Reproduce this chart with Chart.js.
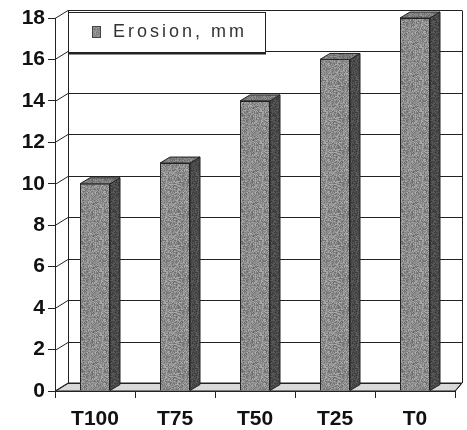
<!DOCTYPE html>
<html>
<head>
<meta charset="utf-8">
<script src="https://cdn.jsdelivr.net/npm/chart.js@4"></script>
<style>
  html, body { margin: 0; padding: 0; background: #fff; }
  #wrap { width: 467px; height: 430px; }
</style>
</head>
<body>
<div id="wrap"><canvas id="erosion-chart" width="467" height="430"></canvas></div>
<script>
// data
const categories = ['T100', 'T75', 'T50', 'T25', 'T0'];
const erosion = [10, 11, 14, 16, 18];
const seriesLabel = 'Erosion, mm';
const yMin = 0, yMax = 18, yStep = 2;

const wallX = 13, wallY = -8; // 3d offset of the back wall
const barX = 10, barY = -6;   // depth of the columns

// little speckled fill like the scanned bars
function speckle(base, spread) {
    const c = document.createElement('canvas');
    c.width = 32; c.height = 32;
    const g = c.getContext('2d');
    let s = 7;
    for (let y = 0; y < 32; y++) {
        for (let x = 0; x < 32; x++) {
            s = (s * 1103515245 + 12345) & 0x7fffffff;
            const v = base + ((s % 1000) / 1000 - 0.5) * spread;
            g.fillStyle = `rgb(${v},${v},${v})`;
            g.fillRect(x, y, 1, 1);
        }
    }
    return g.createPattern(c, 'repeat');
}

const wall3d = { // back wall, floor, left wall and the gridlines
    id: 'wall3d',
    beforeDatasetsDraw(chart) {
        const ctx = chart.ctx;
        const y = chart.scales.y, a = chart.chartArea;
        const left = a.left, right = a.right, bottom = a.bottom;
        const backRight = right + 7;
        ctx.save();
        ctx.strokeStyle = '#222';
        ctx.lineWidth = 1;
        // floor
        ctx.fillStyle = '#d8d8d8';
        ctx.beginPath();
        ctx.moveTo(left, bottom);
        ctx.lineTo(right, bottom);
        ctx.lineTo(backRight, bottom + wallY);
        ctx.lineTo(left + wallX, bottom + wallY);
        ctx.closePath();
        ctx.fill();
        ctx.stroke();
        // gridlines on the back wall + diagonals on the left wall
        for (let v = yMin; v <= yMax; v += yStep) {
            const py = Math.round(y.getPixelForValue(v)) + 0.5;
            ctx.beginPath();
            ctx.moveTo(left, py);
            ctx.lineTo(left + wallX, py + wallY);
            ctx.lineTo(backRight, py + wallY);
            ctx.stroke();
        }
        // vertical edges
        const top = Math.round(y.getPixelForValue(yMax)) + 0.5;
        ctx.beginPath();
        ctx.moveTo(left + wallX + 0.5, top + wallY);
        ctx.lineTo(left + wallX + 0.5, bottom + wallY);
        ctx.moveTo(backRight + 0.5, top + wallY);
        ctx.lineTo(backRight + 0.5, bottom + wallY);
        ctx.moveTo(right, bottom + 0.5);
        ctx.lineTo(backRight, bottom + wallY);
        ctx.stroke();
        ctx.restore();
    },
    afterDatasetsDraw(chart) { // side and top faces of each column
        const ctx = chart.ctx;
        const side = speckle(75, 40), topFace = speckle(125, 50);
        chart.getDatasetMeta(0).data.forEach(bar => {
            const l = bar.x - bar.width / 2, r = bar.x + bar.width / 2;
            const t = bar.y, b = bar.base;
            ctx.save();
            ctx.strokeStyle = '#222';
            ctx.lineWidth = 1;
            ctx.fillStyle = side;
            ctx.beginPath();
            ctx.moveTo(r, t);
            ctx.lineTo(r + barX, t + barY);
            ctx.lineTo(r + barX, b + barY);
            ctx.lineTo(r, b);
            ctx.closePath();
            ctx.fill();
            ctx.stroke();
            ctx.fillStyle = topFace;
            ctx.beginPath();
            ctx.moveTo(l, t);
            ctx.lineTo(l + barX, t + barY);
            ctx.lineTo(r + barX, t + barY);
            ctx.lineTo(r, t);
            ctx.closePath();
            ctx.fill();
            ctx.stroke();
            ctx.restore();
        });
    },
    afterDraw(chart) { // legend box inside the plot, top left
        const ctx = chart.ctx;
        const bx = 68, by = 12, bw = 197, bh = 40;
        ctx.save();
        ctx.fillStyle = '#fff';
        ctx.fillRect(bx, by, bw, bh);
        ctx.strokeStyle = '#222';
        ctx.lineWidth = 1;
        ctx.strokeRect(bx + 0.5, by + 0.5, bw, bh);
        ctx.lineWidth = 2;
        ctx.beginPath();
        ctx.moveTo(bx + 1, by + bh + 1.5);
        ctx.lineTo(bx + bw + 1, by + bh + 1.5);
        ctx.stroke();
        ctx.fillStyle = speckle(140, 50);
        ctx.fillRect(92, 26, 8, 11);
        ctx.lineWidth = 1;
        ctx.strokeStyle = '#444';
        ctx.strokeRect(92.5, 26.5, 8, 11);
        ctx.fillStyle = '#333';
        ctx.font = '18px "Liberation Sans", Arial, sans-serif';
        ctx.letterSpacing = '3px';
        ctx.textBaseline = 'middle';
        ctx.fillText(seriesLabel, 113, 32);
        ctx.restore();
    }
};

const canvas = document.querySelector('#erosion-chart');
new Chart(canvas.getContext('2d'), {
    type: 'bar',
    data: {
        labels: categories,
        datasets: [{
            label: seriesLabel,
            data: erosion,
            backgroundColor: speckle(140, 70),
            borderColor: '#222',
            borderWidth: 1,
            barPercentage: 0.375,
            categoryPercentage: 1
        }]
    },
    options: {
        responsive: false,
        animation: false,
        layout: { padding: { top: 18, right: 12, left: 0, bottom: 0 } },
        plugins: { legend: { display: false }, tooltip: { enabled: false } },
        scales: {
            x: {
                afterFit(scale) { scale.height = 39; },
                grid: { display: true, drawOnChartArea: false, tickLength: 7, color: '#222' },
                border: { display: true, color: '#222' },
                ticks: { color: '#111', padding: 9, font: { family: '"Liberation Sans", Arial, sans-serif', size: 21, weight: 'bold' } }
            },
            y: {
                min: yMin, max: yMax,
                afterFit(scale) { scale.width = 55; },
                grid: { display: true, drawOnChartArea: false, tickLength: 7, color: '#222' },
                border: { display: true, color: '#222' },
                ticks: { stepSize: yStep, color: '#111', padding: 3, font: { family: '"Liberation Sans", Arial, sans-serif', size: 21, weight: 'bold' } }
            }
        }
    },
    plugins: [wall3d]
});
</script>
</body>
</html>
